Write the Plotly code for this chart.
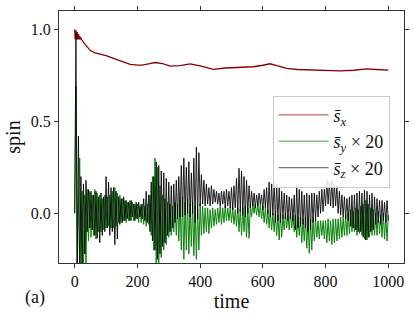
import plotly.graph_objects as go

# ---- data ----
t_x = [0, 2, 4, 6, 8, 10, 12, 14, 16, 18, 20, 23, 30, 40, 50, 65, 82, 100, 124, 150,
       177, 200, 215, 235, 257, 280, 305, 335, 368, 400, 427, 443, 480, 517, 570, 600,
       623, 650, 676, 710, 751, 800, 846, 890, 931, 960, 1000]
s_x = [1.0, 0.945, 0.995, 0.945, 0.985, 0.945, 0.975, 0.945, 0.965, 0.945, 0.955, 0.942,
       0.925, 0.905, 0.885, 0.872, 0.865, 0.857, 0.842, 0.826, 0.81, 0.806, 0.806, 0.812,
       0.82, 0.814, 0.80, 0.803, 0.813, 0.802, 0.788, 0.783, 0.79, 0.793, 0.797, 0.805,
       0.813, 0.80, 0.788, 0.782, 0.779, 0.776, 0.775, 0.778, 0.785, 0.782, 0.779]

t_fast = [4 * k for k in range(251)]

s_z20 = [
    0.0, 0.98, -0.3, 0.42, -0.3, 0.2, -0.28, 0.16, -0.22, 0.18,
    -0.1, 0.13, -0.08, 0.12, -0.09, 0.1, -0.12, 0.12, -0.135, 0.09,
    -0.16, 0.11, -0.12, 0.09, -0.1, 0.2, -0.08, 0.17, -0.12, 0.14,
    -0.1, 0.14, -0.17, 0.12, -0.14, 0.09, -0.06, 0.08, -0.05, 0.09,
    -0.04, 0.07, -0.03, 0.06, -0.04, 0.07, -0.02, 0.05, -0.04, 0.06,
    -0.03, 0.06, -0.02, 0.05, -0.03, 0.08, -0.04, 0.12, -0.05, 0.1,
    -0.1, 0.17, -0.15, 0.2, -0.2, 0.28, -0.25, 0.26, -0.22, 0.23,
    -0.18, 0.22, -0.16, 0.19, -0.12, 0.17, -0.1, 0.15, -0.08, 0.16,
    -0.05, 0.18, -0.03, 0.2, -0.02, 0.26, -0.02, 0.3, -0.01, 0.25,
    0.0, 0.28, -0.02, 0.22, 0.0, 0.3, -0.05, 0.36, -0.03, 0.33,
    0.04, 0.21, 0.05, 0.18, 0.04, 0.16, 0.05, 0.14, 0.04, 0.15,
    0.05, 0.13, 0.06, 0.12, 0.05, 0.11, 0.04, 0.12, 0.05, 0.12,
    0.03, 0.13, 0.04, 0.12, 0.03, 0.14, 0.02, 0.15, 0.03, 0.19,
    0.0, 0.245, 0.01, 0.23, -0.01, 0.2, -0.02, 0.18, 0.0, 0.15,
    0.03, 0.12, 0.04, 0.11, 0.03, 0.1, 0.04, 0.11, 0.05, 0.1,
    0.02, 0.13, 0.03, 0.14, 0.0, 0.17, -0.02, 0.16, -0.01, 0.17,
    -0.05, 0.16, -0.04, 0.14, -0.05, 0.12, -0.03, 0.11, -0.03, 0.1,
    -0.04, 0.09, -0.03, 0.08, -0.04, 0.1, -0.09, 0.15, -0.08, 0.13,
    -0.07, 0.12, -0.06, 0.1, -0.08, 0.11, -0.1, 0.1, -0.09, 0.11,
    -0.05, 0.11, -0.04, 0.1, -0.02, 0.12, 0.0, 0.13, 0.01, 0.13,
    0.04, 0.18, 0.05, 0.17, 0.04, 0.18, 0.03, 0.16, 0.04, 0.15,
    0.0, 0.12, -0.01, 0.1, -0.02, 0.09, -0.03, 0.08, -0.04, 0.09,
    -0.07, 0.1, -0.08, 0.1, -0.09, 0.11, -0.1, 0.12, -0.1, 0.11,
    -0.13, 0.127, -0.145, 0.12, -0.13, 0.1, -0.1, 0.11, -0.09, 0.09,
    -0.06, 0.08, -0.05, 0.07, -0.06, 0.07, -0.04, 0.06, -0.05, 0.07,
    -0.04,
]

s_y20 = [
    0.0, 0.69, -0.3, 0.1, 0.3, -0.3, 0.12, -0.3, 0.1, -0.28,
    0.13, -0.15, 0.12, -0.13, 0.1, -0.12, 0.13, -0.14, 0.11, -0.1,
    0.1, -0.1, 0.08, -0.09, 0.1, -0.08, 0.09, -0.07, 0.1, -0.08,
    0.12, -0.08, 0.14, -0.07, 0.11, -0.05, 0.1, -0.05, 0.08, -0.04,
    0.07, -0.05, 0.06, -0.04, 0.07, -0.04, 0.06, -0.04, 0.05, -0.03,
    0.05, -0.05, 0.04, -0.05, 0.05, -0.06, 0.04, -0.07, 0.05, -0.06,
    0.1, -0.12, 0.2, -0.2, 0.3, -0.27, 0.25, -0.27, 0.15, -0.24,
    0.1, -0.2, 0.08, -0.17, 0.06, -0.13, 0.05, -0.12, 0.04, -0.1,
    0.06, -0.12, 0.05, -0.15, 0.07, -0.2, 0.09, -0.25, 0.06, -0.2,
    0.08, -0.22, 0.05, -0.18, 0.06, -0.23, 0.04, -0.25, 0.02, -0.2,
    0.05, -0.12, 0.04, -0.11, 0.03, -0.1, 0.03, -0.11, 0.02, -0.08,
    0.03, -0.07, 0.02, -0.06, 0.03, -0.05, 0.04, -0.06, 0.03, -0.05,
    0.04, -0.04, 0.03, -0.04, 0.035, -0.05, 0.03, -0.06, 0.02, -0.07,
    0.03, -0.1, 0.02, -0.12, 0.03, -0.1, 0.04, -0.13, 0.03, -0.136,
    0.05, -0.02, 0.055, 0.0, 0.05, -0.01, 0.055, -0.02, 0.05, -0.03,
    0.04, -0.05, 0.03, -0.06, 0.02, -0.08, 0.01, -0.09, 0.0, -0.1,
    0.0, -0.12, -0.01, -0.145, 0.0, -0.13, -0.01, -0.09, 0.0, -0.08,
    -0.01, -0.09, 0.0, -0.08, -0.01, -0.1, -0.01, -0.13, -0.02, -0.12,
    -0.02, -0.16, -0.03, -0.15, -0.02, -0.19, -0.03, -0.217, -0.03, -0.2,
    -0.02, -0.15, -0.03, -0.13, -0.04, -0.14, -0.04, -0.12, -0.04, -0.14,
    -0.04, -0.16, -0.03, -0.15, -0.04, -0.17, -0.03, -0.16, -0.03, -0.15,
    -0.03, -0.14, -0.02, -0.13, -0.02, -0.12, -0.01, -0.12, 0.0, -0.11,
    0.02, -0.1, 0.01, -0.1, 0.03, -0.12, 0.02, -0.11, 0.04, -0.12,
    0.05, -0.14, 0.07, -0.145, 0.05, -0.13, 0.03, -0.12, 0.02, -0.12,
    0.0, -0.12, 0.01, -0.11, -0.01, -0.13, 0.0, -0.14, -0.01, -0.15,
    -0.01,
]

x_ticks = [0, 200, 400, 600, 800, 1000]
x_tick_labels = ["0", "200", "400", "600", "800", "1000"]
y_ticks = [0.0, 0.5, 1.0]
y_tick_labels = ["0.0", "0.5", "1.0"]
legend_names = ["<i>s̄</i><sub><i>x</i></sub>",
                "<i>s̄</i><sub><i>y</i></sub> × 20",
                "<i>s̄</i><sub><i>z</i></sub> × 20"]

FONT = "Liberation Serif, DejaVu Serif, serif"
AX = "#333333"

fig = go.Figure()
# data traces (no legend entries)
fig.add_trace(go.Scatter(x=t_x, y=s_x, mode="lines", showlegend=False,
                         line=dict(color="#8b0000", width=1.3)))
fig.add_trace(go.Scatter(x=t_fast, y=s_y20, mode="lines", showlegend=False,
                         line=dict(color="rgb(10,130,10)", width=1.0)))
fig.add_trace(go.Scatter(x=t_fast, y=s_z20, mode="lines", showlegend=False,
                         line=dict(color="rgba(0,0,0,0.85)", width=1.0)))
# legend samples (semi-transparent line colours as in the reference legend)
for name, col in zip(legend_names, ["rgb(190,100,100)", "rgb(128,200,128)", "rgb(120,120,120)"]):
    fig.add_trace(go.Scatter(x=[None], y=[None], mode="lines", name=name,
                             line=dict(color=col, width=1.3)))

fig.update_layout(
    width=415, height=317,
    margin=dict(l=59, r=11, t=11, b=54, autoexpand=False),
    paper_bgcolor="white", plot_bgcolor="white",
    font=dict(family=FONT, size=16, color="#111"),
    legend=dict(x=0.619, y=0.664, xanchor="left", yanchor="top",
                bgcolor="rgba(255,255,255,0.85)", bordercolor="#cccccc", borderwidth=1,
                font=dict(family=FONT, size=18, color="#111"), itemwidth=50,
                traceorder="normal"),
    xaxis=dict(range=[-50, 1050], tickvals=x_ticks, ticktext=x_tick_labels,
               ticks="outside", ticklen=4, tickcolor=AX, showline=True, linecolor=AX,
               linewidth=1, mirror="ticks", showgrid=False, zeroline=False,
               automargin=False, tickfont=dict(family=FONT, size=16, color="#111"),
               title=dict(text="time", font=dict(family=FONT, size=20, color="#111"),
                          standoff=4)),
    yaxis=dict(range=[-0.27, 1.1], tickvals=y_ticks, ticktext=y_tick_labels,
               ticks="outside", ticklen=4, tickcolor=AX, showline=True, linecolor=AX,
               linewidth=1, mirror="ticks", showgrid=False, zeroline=False,
               automargin=False, tickfont=dict(family=FONT, size=16, color="#111"),
               title=dict(text="spin", font=dict(family=FONT, size=20, color="#111"),
                          standoff=4)),
    annotations=[dict(text="(a)", xref="paper", yref="paper", x=-0.0696, y=-0.135,
                      xanchor="center", yanchor="middle", showarrow=False,
                      font=dict(family=FONT, size=18, color="#111"))],
)

fig.write_html("out.html", config={"displayModeBar": False},
               post_script="document.body.style.margin='0px';document.body.style.padding='0px';")
